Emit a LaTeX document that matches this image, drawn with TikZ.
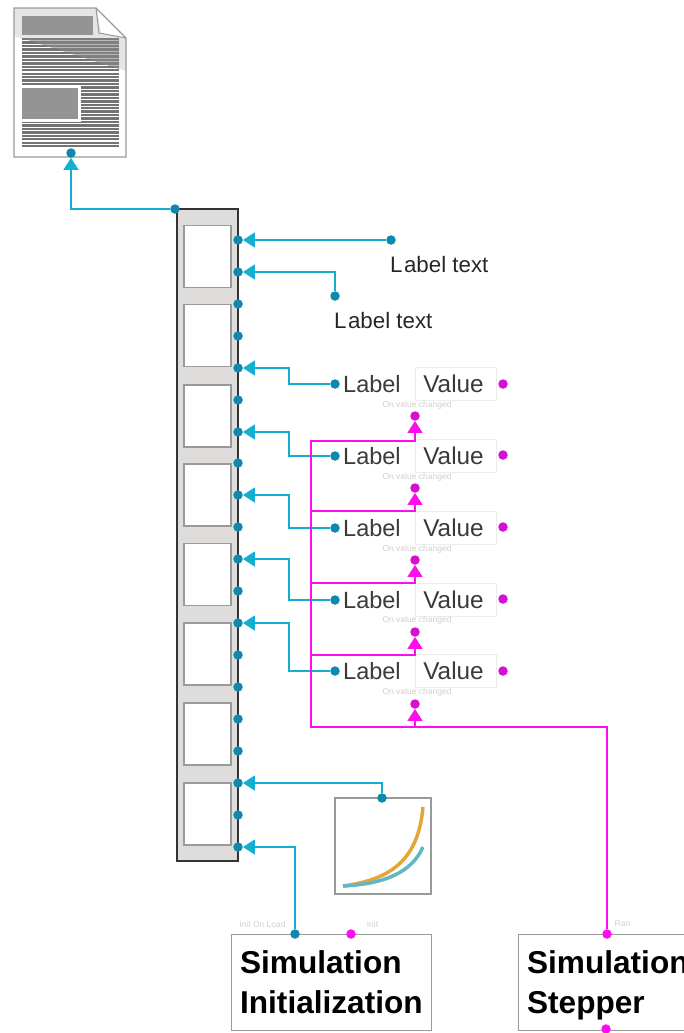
\documentclass[tikz,border=0pt]{standalone}
\usepackage{fontspec}
\setmainfont{Liberation Sans}
\definecolor{wire}{HTML}{12AFD3}
\definecolor{portblue}{HTML}{0E88AC}
\definecolor{wirepink}{HTML}{FF0CF0}
\definecolor{portpink}{HTML}{D60FD0}
\definecolor{frame}{HTML}{9A9A9A}
\definecolor{panel}{HTML}{DEDDDC}
\definecolor{faint}{HTML}{CFCFCF}
\definecolor{inktext}{HTML}{3A3A3A}
\definecolor{curveorange}{HTML}{E3A63A}
\definecolor{curveteal}{HTML}{62B6C6}
\usetikzlibrary{arrows.meta}

\tikzset{
  port/.style={circle,fill=portblue,inner sep=0pt,minimum size=9.5bp},
  pinkport/.style={circle,fill=portpink,inner sep=0pt,minimum size=9.5bp},
  bluewire/.style={wire,line width=1.7bp,-{Triangle[width=15bp,length=12bp]}},
  pinkwire/.style={wirepink,line width=1.7bp,-{Triangle[width=15bp,length=12bp]}},
  windowbox/.style={draw=frame,line width=1.2bp,fill=white,minimum width=47bp,minimum height=62bp,inner sep=0pt},
  valuebox/.style={draw=black!7,line width=1bp,minimum width=81bp,minimum height=33bp,inner sep=0pt,text=inktext,font=\fontsize{24.3bp}{26bp}\selectfont},
  labelnode/.style={anchor=west,inner sep=0pt,text=inktext,font=\fontsize{23.5bp}{26bp}\selectfont},
  textnode/.style={anchor=west,inner sep=0pt,text=black!85,font=\fontsize{22.3bp}{26bp}\selectfont},
  tinynode/.style={inner sep=0pt,text=faint,font=\fontsize{8.5bp}{10bp}\selectfont},
  simbox/.style={draw=frame,line width=1.2bp,fill=white,anchor=north west,minimum height=96bp,inner xsep=8.5bp,inner ysep=0pt,align=left,font=\fontsize{31.6bp}{40bp}\bfseries\selectfont}
}

\begin{document}
\begin{tikzpicture}[x=1bp,y=-1bp,>=Stealth]
\useasboundingbox (0,0) rectangle (684,1033);

% document icon
\fill[white] (14,8) -- (96,8) -- (126,38) -- (126,157) -- (14,157) -- cycle;
\fill[black!10] (14,8) -- (96,8) -- (126,38) -- (126,71) -- (14,36) -- cycle;
\fill[black!42] (22,16) rectangle (93,35);
\draw[black!55,line width=97bp,dash pattern=on 2.4bp off 1.05bp] (70.5,38) -- (70.5,147);
\fill[black!45,opacity=.5] (22,38) -- (119,38) -- (119,69) -- cycle;
\fill[white] (22,86) rectangle (81,122);
\fill[black!42] (22,88) rectangle (78,119);
\fill[white] (97,9) -- (125,38) -- (101,33) -- cycle;
\draw[frame,line width=1.2bp] (14,8) -- (96,8) -- (126,38) -- (126,157) -- (14,157) -- cycle;
\draw[frame,line width=1bp] (96,8) -- (99,33) -- (126,38);
\node[port] (DocPort) at (71,153) {};

% panel with eight windows
\node[draw=black!80,line width=1.6bp,fill=panel,minimum width=61bp,minimum height=652bp,inner sep=0pt] (Panel) at (207.5,535) {};
\node[windowbox] (W1) at (207.5,256.5) {};
\node[windowbox] (W2) at (207.5,335.5) {};
\node[windowbox] (W3) at (207.5,416) {};
\node[windowbox] (W4) at (207.5,495) {};
\node[windowbox] (W5) at (207.5,574.5) {};
\node[windowbox] (W6) at (207.5,654) {};
\node[windowbox] (W7) at (207.5,734) {};
\node[windowbox] (W8) at (207.5,814) {};
\node[port] (PanelOut) at (175,209) {};
\node[port] (P1) at (238,240) {};
\node[port] (P2) at (238,272) {};
\node[port] (P3) at (238,304) {};
\node[port] (P4) at (238,336) {};
\node[port] (P5) at (238,368) {};
\node[port] (P6) at (238,400) {};
\node[port] (P7) at (238,432) {};
\node[port] (P8) at (238,463) {};
\node[port] (P9) at (238,495) {};
\node[port] (P10) at (238,527) {};
\node[port] (P11) at (238,559) {};
\node[port] (P12) at (238,591) {};
\node[port] (P13) at (238,623) {};
\node[port] (P14) at (238,655) {};
\node[port] (P15) at (238,687) {};
\node[port] (P16) at (238,719) {};
\node[port] (P17) at (238,751) {};
\node[port] (P18) at (238,783) {};
\node[port] (P19) at (238,815) {};
\node[port] (P20) at (238,847) {};

% plain labels
\node[port] (TextA) at (391,240) {};
\node[textnode] (TextLabelA) at (390,264.5) {L\kern1.5bp abel text};
\node[port] (TextB) at (335,296) {};
\node[textnode] (TextLabelB) at (334,320.5) {L\kern1.5bp abel text};

% label and value rows
\node[port] (L1) at (335,384) {};
\node[labelnode] (LabelA) at (343,384) {Label};
\node[valuebox] (ValueA) at (455.5,383.5) {Value\hspace*{4bp}};
\node[pinkport] (OutA) at (503,384) {};
\node[tinynode] (TinyA) at (417,405.5) {On value changed};
\node[pinkport] (InA) at (415,416) {};
\node[port] (L2) at (335,456) {};
\node[labelnode] (LabelB) at (343,456) {Label};
\node[valuebox] (ValueB) at (455.5,455.5) {Value\hspace*{4bp}};
\node[pinkport] (OutB) at (503,455) {};
\node[tinynode] (TinyB) at (417,477.5) {On value changed};
\node[pinkport] (InB) at (415,488) {};
\node[port] (L3) at (335,528) {};
\node[labelnode] (LabelC) at (343,528) {Label};
\node[valuebox] (ValueC) at (455.5,527.5) {Value\hspace*{4bp}};
\node[pinkport] (OutC) at (503,527) {};
\node[tinynode] (TinyC) at (417,549.5) {On value changed};
\node[pinkport] (InC) at (415,560) {};
\node[port] (L4) at (335,600) {};
\node[labelnode] (LabelD) at (343,600) {Label};
\node[valuebox] (ValueD) at (455.5,599.5) {Value\hspace*{4bp}};
\node[pinkport] (OutD) at (503,599) {};
\node[tinynode] (TinyD) at (417,620.5) {On value changed};
\node[pinkport] (InD) at (415,632) {};
\node[port] (L5) at (335,671) {};
\node[labelnode] (LabelE) at (343,671) {Label};
\node[valuebox] (ValueE) at (455.5,671) {Value\hspace*{4bp}};
\node[pinkport] (OutE) at (503,671) {};
\node[tinynode] (TinyE) at (417,692.5) {On value changed};
\node[pinkport] (InE) at (415,704) {};

% chart
\node[draw=frame,line width=1.2bp,fill=white,minimum size=96bp,inner sep=0pt] (Chart) at (383,846) {};
\draw[curveorange,line width=3.5bp] (343,886) .. controls (385,880) and (418,865) .. (423,807);
\draw[curveteal,line width=3.5bp] (343,886) .. controls (385,884) and (412,872) .. (423,847);
\node[port] (ChartPort) at (382,798) {};

% simulation boxes
\node[simbox,minimum width=200bp,text width=183bp] (SimInit) at (231,934) {\rule{0pt}{34bp}Simulation\\Initialization\strut};
\node[tinynode] (TinyLoad) at (262.5,924) {Init On Load};
\node[tinynode] (TinyInit) at (372.5,924) {Init};
\node[port] (LoadPort) at (295,934) {};
\node[pinkport,fill=wirepink] (InitPort) at (351,934) {};
\node[simbox,minimum width=180bp,text width=163bp] (SimStep) at (518,934) {\rule{0pt}{34bp}Simulation\\Stepper\strut};
\node[tinynode] (TinyRan) at (622.5,924) {Ran};
\node[pinkport,fill=wirepink] (RanPort) at (607,934) {};
\node[pinkport,fill=wirepink] (StepOut) at (606,1029) {};

% blue connectors
\draw[bluewire] (PanelOut) -| (DocPort);
\draw[bluewire] (TextA) -- (P1);
\draw[bluewire] (TextB) |- (P2);
\draw[bluewire] (L1) -- (289,384) |- (P5);
\draw[bluewire] (L2) -- (289,456) |- (P7);
\draw[bluewire] (L3) -- (289,528) |- (P9);
\draw[bluewire] (L4) -- (289,600) |- (P11);
\draw[bluewire] (L5) -- (289,671) |- (P13);
\draw[bluewire] (ChartPort) |- (P18);
\draw[bluewire] (LoadPort) |- (P20);

% pink connectors
\draw[pinkwire] (RanPort) |- (415,727) -- (InE);
\draw[pinkwire] (RanPort) |- (311,727) |- (415,655) -- (InD);
\draw[pinkwire] (RanPort) |- (311,727) |- (415,583) -- (InC);
\draw[pinkwire] (RanPort) |- (311,727) |- (415,511) -- (InB);
\draw[pinkwire] (RanPort) |- (311,727) |- (415,441) -- (InA);
\end{tikzpicture}
\end{document}
